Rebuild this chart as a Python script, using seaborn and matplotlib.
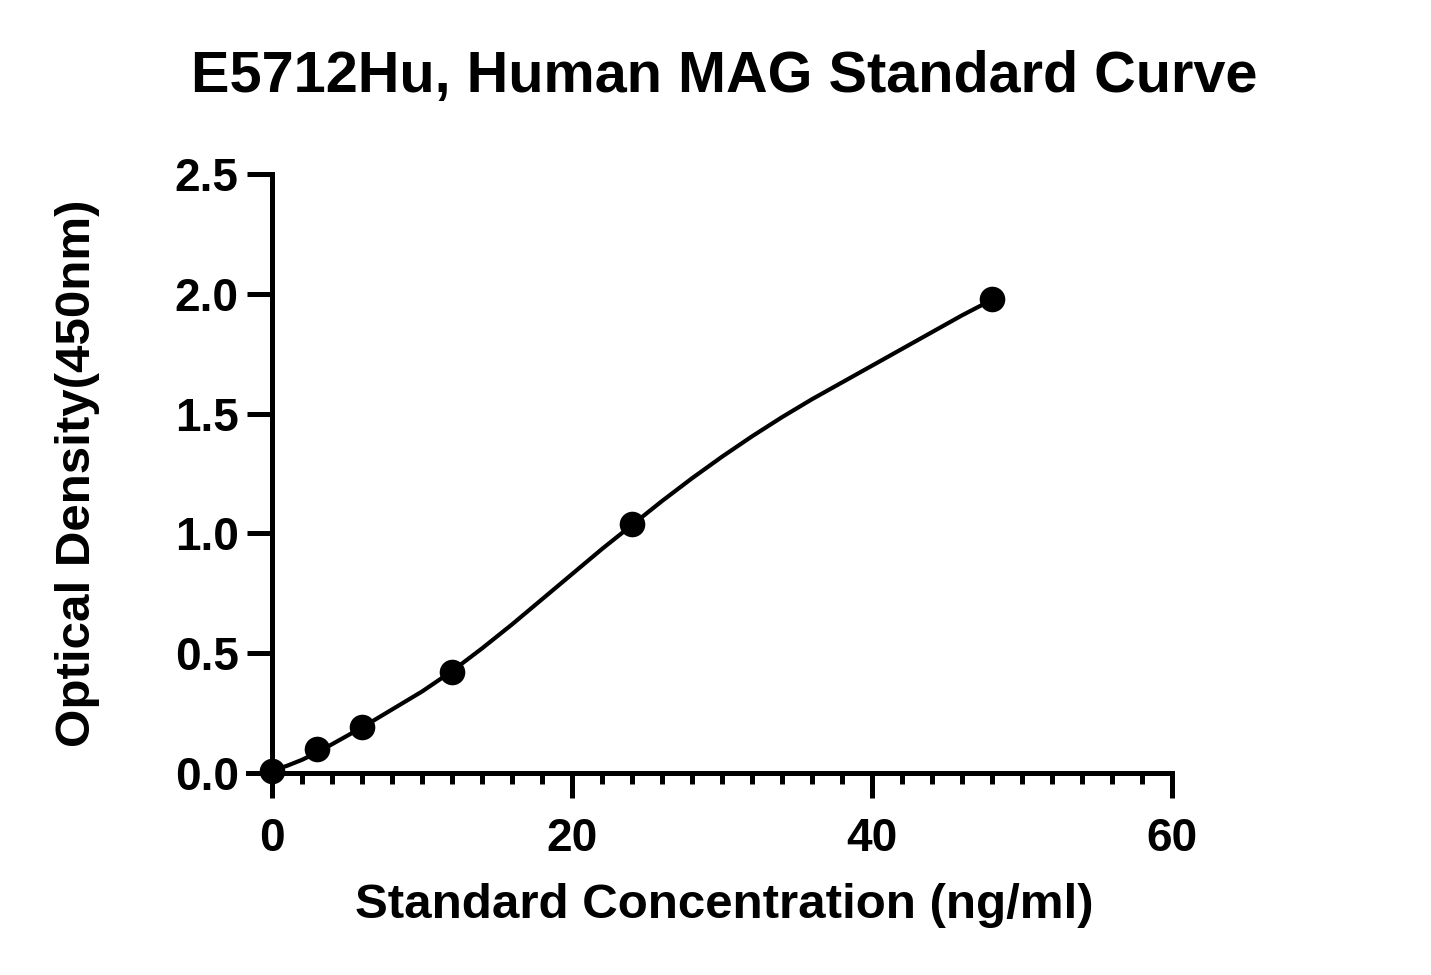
import matplotlib
matplotlib.use("Agg")
import matplotlib.pyplot as plt
import seaborn as sns
import pandas as pd
from matplotlib.ticker import MultipleLocator

# standard points
conc = [0, 3, 6, 12, 24, 48]
od = [0.01, 0.10, 0.19, 0.42, 1.04, 1.98]

# fitted curve
curve_x = [0, 1, 2, 3, 4, 5, 6, 8, 10, 12, 14, 16, 18, 20, 22, 24, 26, 28, 30, 32, 34, 36, 38, 40, 42, 44, 46, 48]
curve_y = [0.01, 0.03, 0.055, 0.085, 0.12, 0.155, 0.19, 0.265, 0.34, 0.425, 0.52, 0.62, 0.725, 0.83, 0.935, 1.035,
           1.135, 1.23, 1.32, 1.405, 1.485, 1.56, 1.63, 1.70, 1.77, 1.84, 1.91, 1.975]

sns.set_style("ticks")
plt.rcParams['font.family'] = ['Liberation Sans', 'DejaVu Sans']
plt.rcParams['font.weight'] = 'bold'
plt.rcParams['text.color'] = 'black'
plt.rcParams['xtick.color'] = 'black'
plt.rcParams['ytick.color'] = 'black'
plt.rcParams['axes.edgecolor'] = 'black'

fig = plt.figure(figsize=(14.31, 9.75), dpi=100)
ax = fig.add_axes([248 / 1431, 202 / 975, 924 / 1431, 599 / 975])

pts = pd.DataFrame({"conc": conc, "od": od})
fit = pd.DataFrame({"conc": curve_x, "od": curve_y})

sns.lineplot(data=fit, x="conc", y="od", color="black", linewidth=3, ax=ax, zorder=2)
sns.scatterplot(data=pts, x="conc", y="od", color="black", s=340, edgecolor="black", linewidth=0,
                ax=ax, zorder=3, clip_on=False)

ax.set_xlim(-1.6, 60)
ax.set_ylim(0, 2.5)
ax.spines['left'].set_position(('data', 0))
ax.spines['right'].set_visible(False)
ax.spines['top'].set_visible(False)
for s in ['left', 'bottom']:
    ax.spines[s].set_linewidth(3.6)
ax.set_xticks([0, 20, 40, 60])
ax.xaxis.set_minor_locator(MultipleLocator(2))
ax.set_yticks([0, 0.5, 1.0, 1.5, 2.0, 2.5])
ax.set_yticklabels(["0.0", "0.5", "1.0", "1.5", "2.0", "2.5"])
ax.tick_params(axis='both', which='major', length=18, width=3.6, labelsize=33, labelcolor='black')
ax.tick_params(axis='x', which='major', pad=14)
ax.tick_params(axis='y', which='major', pad=6)
ax.tick_params(axis='x', which='minor', length=8, width=3.6)
for lab in ax.get_xticklabels() + ax.get_yticklabels():
    lab.set_fontweight('bold')

ax.set_xlabel("")
ax.set_ylabel("")
fig.text(724 / 1431, 1 - 905 / 975, "Standard Concentration (ng/ml)", ha='center', va='center',
         fontsize=35.5, fontweight='bold')
fig.text(78 / 1431, 1 - 473 / 975, "Optical Density(450nm)", ha='center', va='center',
         rotation=90, fontsize=35.5, fontweight='bold')
fig.text(724 / 1431, 1 - 77 / 975, "E5712Hu, Human MAG Standard Curve", ha='center', va='center',
         fontsize=41.5, fontweight='bold')

fig.savefig("out.png", dpi=100)
